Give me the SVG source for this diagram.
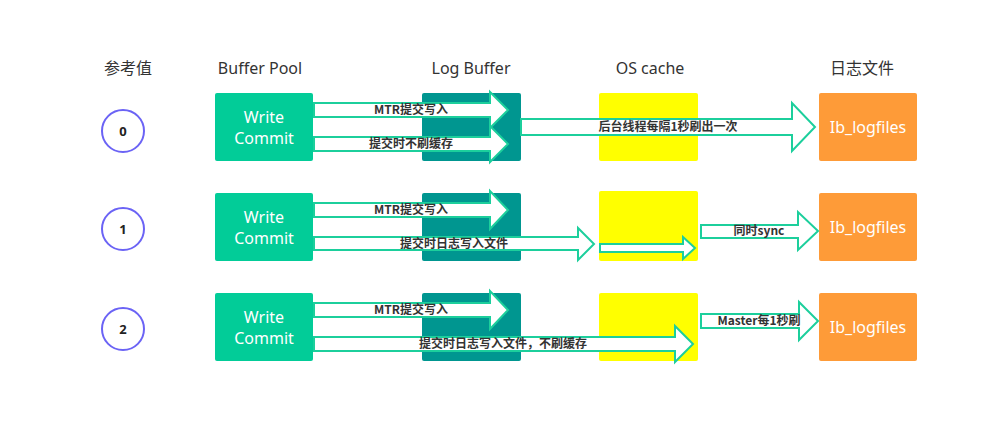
<svg xmlns="http://www.w3.org/2000/svg" width="1003" height="424" viewBox="0 0 1003 424">
<style>
.hdr{font-family:"Noto Sans","Noto Sans CJK SC",sans-serif;font-size:16px;fill:#333;text-anchor:middle}
.box{font-family:"Noto Sans","Noto Sans CJK SC",sans-serif;font-size:16px;fill:#fff;text-anchor:middle}
.lbl{font-family:"Noto Sans CJK SC","Noto Sans",sans-serif;font-size:12px;font-weight:bold;fill:#333;text-anchor:middle}
.num{font-family:"Noto Sans",sans-serif;font-size:13px;font-weight:bold;fill:#222;text-anchor:middle}
.arr{fill:#fff;stroke:#1ccf9c;stroke-width:2;stroke-linejoin:miter}
.circ{fill:#fff;stroke:#6b63f5;stroke-width:2}
.wc{fill:#02cc98}
.lb{fill:#009690}
.os{fill:#ffff00}
.lf{fill:#fe9b38}
</style>
<rect width="1003" height="424" fill="#fff"/>
<g id="headers">
<text class="hdr" x="128" y="74">参考值</text>
<text class="hdr" x="260" y="74">Buffer Pool</text>
<text class="hdr" x="471" y="74">Log Buffer</text>
<text class="hdr" x="650" y="74">OS cache</text>
<text class="hdr" x="862" y="74">日志文件</text>
</g>
<g id="circle0"><circle class="circ" cx="123" cy="131" r="21"/><text class="num" x="123" y="136">0</text></g>
<g id="circle1"><circle class="circ" cx="123" cy="229" r="21"/><text class="num" x="123" y="234">1</text></g>
<g id="circle2"><circle class="circ" cx="123" cy="329" r="21"/><text class="num" x="123" y="334">2</text></g>
<g id="bufferpool0"><rect class="wc" x="215" y="93" width="98" height="68" rx="2"/><text class="box" x="264" y="123">Write</text><text class="box" x="264" y="144">Commit</text></g>
<g id="bufferpool1"><rect class="wc" x="215" y="193" width="98" height="68" rx="2"/><text class="box" x="264" y="223">Write</text><text class="box" x="264" y="244">Commit</text></g>
<g id="bufferpool2"><rect class="wc" x="215" y="293" width="98" height="68" rx="2"/><text class="box" x="264" y="323">Write</text><text class="box" x="264" y="344">Commit</text></g>
<g id="logbuffer0"><rect class="lb" x="422" y="93" width="99" height="68" rx="2"/></g>
<g id="logbuffer1"><rect class="lb" x="422" y="193" width="99" height="68" rx="2"/></g>
<g id="logbuffer2"><rect class="lb" x="422" y="293" width="99" height="68" rx="2"/></g>
<g id="oscache0"><rect class="os" x="599" y="93" width="99" height="68" rx="2"/></g>
<g id="oscache1"><rect class="os" x="599" y="191" width="99" height="70" rx="2"/></g>
<g id="oscache2"><rect class="os" x="599" y="293" width="99" height="68" rx="2"/></g>
<g id="logfile0"><rect class="lf" x="819" y="93" width="98" height="68" rx="2"/><text class="box" x="868" y="133">Ib_logfiles</text></g>
<g id="logfile1"><rect class="lf" x="819" y="193" width="98" height="68" rx="2"/><text class="box" x="868" y="233">Ib_logfiles</text></g>
<g id="logfile2"><rect class="lf" x="819" y="293" width="98" height="68" rx="2"/><text class="box" x="868" y="333">Ib_logfiles</text></g>
<g id="connectors">
<polygon class="arr" points="314,103 490,103 490,92 508,110 490,128 490,117 314,117"/>
<polygon class="arr" points="314,137 490,137 490,126 508,144 490,162 490,151 314,151"/>
<polygon class="arr" points="521,119 792,119 792,103 815,127 792,151 792,135 521,135"/>
<polygon class="arr" points="314,203 490,203 490,191 508,210 490,229 490,217 314,217"/>
<polygon class="arr" points="314,237 578,237 578,228 594,244 578,260 578,250 314,250"/>
<polygon class="arr" points="600,244 683,244 683,237 695,248 683,259 683,252 600,252"/>
<polygon class="arr" points="701,225 798,225 798,212 818,231 798,250 798,238 701,238"/>
<polygon class="arr" points="314,303 490,303 490,291 508,310 490,329 490,317 314,317"/>
<polygon class="arr" points="314,337 675,337 675,326 693,344 675,362 675,351 314,351"/>
<polygon class="arr" points="701,314 799,314 799,302 818,321 799,340 799,328 701,328"/>
<text class="lbl" x="411" y="114">MTR提交写入</text>
<text class="lbl" x="411" y="148">提交时不刷缓存</text>
<text class="lbl" x="668" y="131">后台线程每隔1秒刷出一次</text>
<text class="lbl" x="411" y="214">MTR提交写入</text>
<text class="lbl" x="454" y="248">提交时日志写入文件</text>
<text class="lbl" x="759" y="235">同时sync</text>
<text class="lbl" x="411" y="314">MTR提交写入</text>
<text class="lbl" x="503" y="348">提交时日志写入文件，不刷缓存</text>
<text class="lbl" x="759" y="325">Master每1秒刷</text>
</g>
</svg>
